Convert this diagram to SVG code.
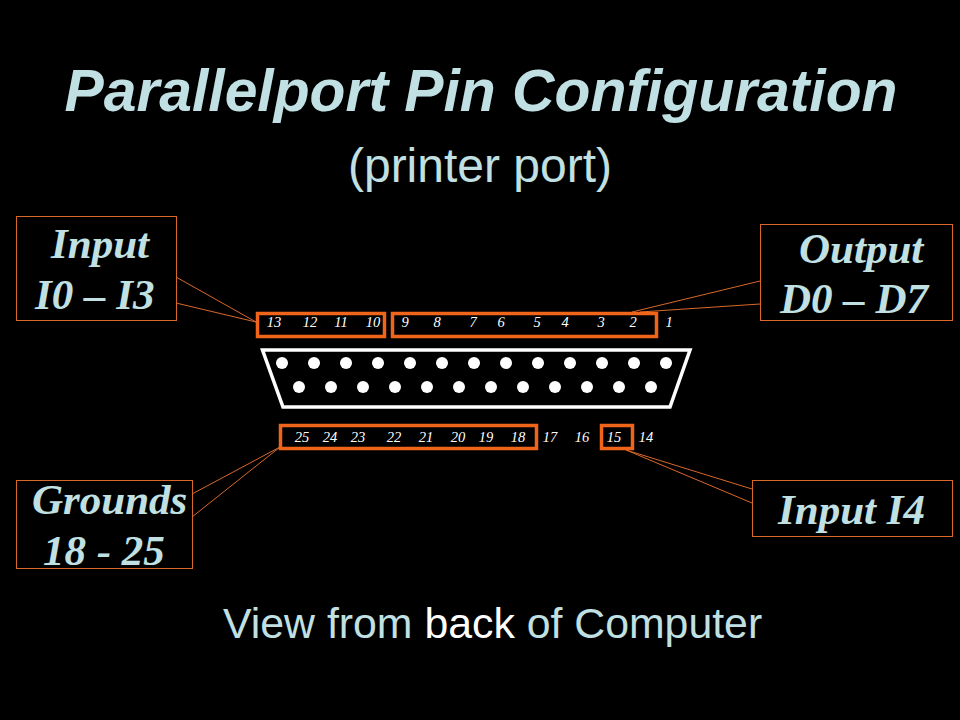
<svg xmlns="http://www.w3.org/2000/svg" width="960" height="720" viewBox="0 0 960 720">
<style>
.sans{font-family:"Liberation Sans",Arial,sans-serif;fill:#c0e0e3}
.lab{font-family:"Liberation Serif","Times New Roman",serif;font-style:italic;font-weight:bold;font-size:43px;fill:#c0e0e3}
.n{font-family:"Liberation Serif","Times New Roman",serif;font-style:italic;font-size:14.5px;fill:#fff;text-anchor:middle}
.box{fill:#000;stroke:#d9682a;stroke-width:1}
.lead{fill:none;stroke:#d9682a;stroke-width:1}
.hl{fill:none;stroke:#f0651a;stroke-width:3.5}
.pin{fill:#fff}
</style>
<rect width="960" height="720" fill="#000"/>
<g id="title">
<text class="sans" x="481" y="111" font-size="58.800" font-weight="bold" font-style="italic" text-anchor="middle">Parallelport Pin Configuration</text>
<text class="sans" x="480" y="182" font-size="48" text-anchor="middle">(printer port)</text>
</g>
<g id="connectors">
<path class="lead" d="M176 277L256 322M176 303L256 322"/>
<path class="lead" d="M760 281L632 312M760 304L640 312"/>
<path class="lead" d="M192 494L280 447M192 517L280 447"/>
<path class="lead" d="M752 489L626 450M752 503L626 450"/>
</g>
<g id="connector-shell">
<path d="M262.500 350H690L670 407H283Z" fill="none" stroke="#fff" stroke-width="3.500"/>
<g class="pin">
<circle cx="282" cy="363" r="6"/><circle cx="314" cy="363" r="6"/><circle cx="346" cy="363" r="6"/><circle cx="378" cy="363" r="6"/><circle cx="410" cy="363" r="6"/><circle cx="442" cy="363" r="6"/><circle cx="474" cy="363" r="6"/><circle cx="506" cy="363" r="6"/><circle cx="538" cy="363" r="6"/><circle cx="570" cy="363" r="6"/><circle cx="602" cy="363" r="6"/><circle cx="634" cy="363" r="6"/><circle cx="666" cy="363" r="6"/>
<circle cx="299" cy="387" r="6"/><circle cx="331" cy="387" r="6"/><circle cx="363" cy="387" r="6"/><circle cx="395" cy="387" r="6"/><circle cx="427" cy="387" r="6"/><circle cx="459" cy="387" r="6"/><circle cx="491" cy="387" r="6"/><circle cx="523" cy="387" r="6"/><circle cx="555" cy="387" r="6"/><circle cx="587" cy="387" r="6"/><circle cx="619" cy="387" r="6"/><circle cx="651" cy="387" r="6"/>
</g>
</g>
<g id="highlight-i0-i3"><rect class="hl" x="257.500" y="313.500" width="127" height="23"/></g>
<g id="highlight-d0-d7"><rect class="hl" x="392.500" y="313.500" width="264" height="23"/></g>
<g id="highlight-grounds"><rect class="hl" x="280.500" y="425.500" width="256" height="23"/></g>
<g id="highlight-i4"><rect class="hl" x="601.500" y="425.500" width="31" height="23"/></g>
<g id="pin-numbers">
<text class="n" x="274" y="327">13</text><text class="n" x="310" y="327">12</text><text class="n" x="341" y="327">11</text><text class="n" x="373" y="327">10</text>
<text class="n" x="405" y="327">9</text><text class="n" x="437" y="327">8</text><text class="n" x="473" y="327">7</text><text class="n" x="501" y="327">6</text><text class="n" x="537" y="327">5</text><text class="n" x="565" y="327">4</text><text class="n" x="601" y="327">3</text><text class="n" x="633" y="327">2</text><text class="n" x="669" y="327">1</text>
<text class="n" x="302" y="442">25</text><text class="n" x="330" y="442">24</text><text class="n" x="358" y="442">23</text><text class="n" x="394" y="442">22</text><text class="n" x="426" y="442">21</text><text class="n" x="458" y="442">20</text><text class="n" x="486" y="442">19</text><text class="n" x="518" y="442">18</text><text class="n" x="550" y="442">17</text><text class="n" x="582" y="442">16</text><text class="n" x="614" y="442">15</text><text class="n" x="646" y="442">14</text>
</g>
<g id="label-input-i0-i3"><rect class="box" x="16.500" y="216.500" width="160" height="104"/>
<text class="lab" x="51" y="258">Input</text><text class="lab" x="35" y="309">I0 – I3</text></g>
<g id="label-output-d0-d7"><rect class="box" x="760.500" y="224.500" width="192" height="96"/>
<text class="lab" x="799" y="263">Output</text><text class="lab" x="780" y="313">D0 – D7</text></g>
<g id="label-grounds"><rect class="box" x="16.500" y="480.500" width="176" height="88"/>
<text class="lab" x="32" y="514">Grounds</text><text class="lab" x="43" y="565">18 - 25</text></g>
<g id="label-input-i4"><rect class="box" x="752.500" y="480.500" width="200" height="56"/>
<text class="lab" x="778" y="524">Input I4</text></g>
<g id="caption"><text class="sans" x="223" y="638" font-size="42.800">View from <tspan fill="#fff">back</tspan> of Computer</text></g>
</svg>
